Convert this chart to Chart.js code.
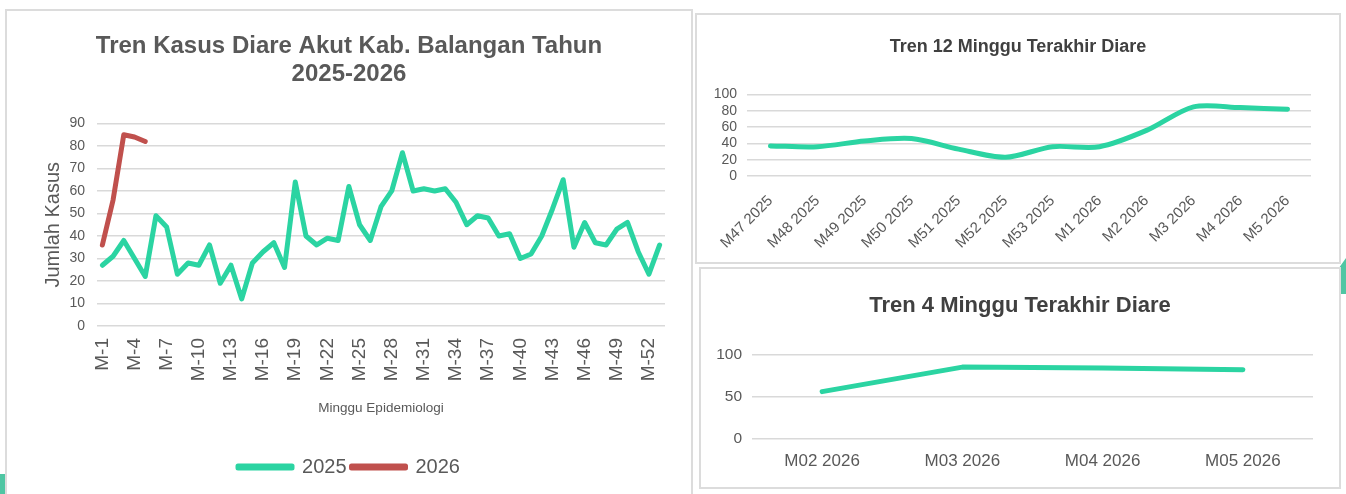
<!DOCTYPE html>
<html>
<head>
<meta charset="utf-8">
<script src="https://cdn.jsdelivr.net/npm/chart.js@4.4.0/dist/chart.umd.min.js"></script>
<style>
  html, body { margin: 0; padding: 0; background: #fff; overflow: hidden; }
  body { width: 1346px; height: 494px; position: relative; }
  .card { position: absolute; border: 2px solid #dcdcdc; background: #fff; box-sizing: border-box; }
  .card canvas { display: block; }
  .deco { position: absolute; background: #4fc6a3; }
</style>
</head>
<body>
<div class="deco" style="left:0;top:474px;width:5px;height:20px;"></div>
<div class="deco" style="left:1338px;top:258px;width:8px;height:36px;clip-path:polygon(100% 0,100% 100%,20% 100%,20% 25%);"></div>
<div class="card" style="left:5px;top:9px;width:688px;height:495px;"><canvas id="main"></canvas></div>
<div class="card" style="left:695px;top:13px;width:646px;height:251px;"><canvas id="last12"></canvas></div>
<div class="card" style="left:699px;top:267px;width:642px;height:222px;"><canvas id="last4"></canvas></div>
<script>
const weeks = ["M-1","M-2","M-3","M-4","M-5","M-6","M-7","M-8","M-9","M-10","M-11","M-12","M-13","M-14","M-15","M-16","M-17","M-18","M-19","M-20","M-21","M-22","M-23","M-24","M-25","M-26","M-27","M-28","M-29","M-30","M-31","M-32","M-33","M-34","M-35","M-36","M-37","M-38","M-39","M-40","M-41","M-42","M-43","M-44","M-45","M-46","M-47","M-48","M-49","M-50","M-51","M-52","M-53"];
const cases2025 = [27,31,38,30,22,49,44,23,28,27,36,19,27,12,28,33,37,26,64,40,36,39,38,62,45,38,53,60,77,60,61,60,61,55,45,49,48,40,41,30,32,40,52,65,35,46,37,36,43,46,33,23,36];
const cases2026 = [36,56,85,84,82];

const labels12 = ["M47 2025","M48 2025","M49 2025","M50 2025","M51 2025","M52 2025","M53 2025","M1 2026","M2 2026","M3 2026","M4 2026","M5 2026"];
const values12 = [37,36,43,46,33,23,36,36,56,85,84,82];

const labels4 = ["M02 2026","M03 2026","M04 2026","M05 2026"];
const values4 = [56,85,84,82];

const green = "#2bd4a2";
const red = "#c0504d";
const gridCol = "#d9d9d9";
const textCol = "#595959";
const FONT = "'Liberation Sans', Arial, Helvetica, sans-serif";

Chart.defaults.font.family = FONT;
Chart.defaults.color = textCol;
Chart.defaults.animation = false;

function sizeCanvas(id, w, h) {
  const c = document.getElementById(id);
  c.style.width = w + "px";
  c.style.height = h + "px";
  c.width = w; c.height = h;
  return c;
}

// empty axis on the right, only to keep the title centred on the card
function spacer(w) {
  return {
    position: 'right', display: true,
    grid: { display: false }, border: { display: false },
    ticks: { display: false },
    afterFit: function(s) { s.width = w; }
  };
}

// big chart
let mainCanvas = sizeCanvas("main", 684, 491);
new Chart(mainCanvas, {
  type: 'line',
  data: {
    labels: weeks,
    datasets: [
      { label: '2025', data: cases2025, borderColor: green, backgroundColor: green, borderWidth: 5, pointRadius: 0, tension: 0, borderJoinStyle: 'round', borderCapStyle: 'round' },
      { label: '2026', data: cases2026, borderColor: red, backgroundColor: red, borderWidth: 5, pointRadius: 0, tension: 0, borderJoinStyle: 'round', borderCapStyle: 'round' }
    ]
  },
  options: {
    responsive: false,
    layout: { padding: { left: 13, right: 13, top: 0, bottom: 15 } },
    plugins: {
      title: {
        display: true,
        text: ['Tren Kasus Diare Akut Kab. Balangan Tahun', '2025-2026'],
        color: textCol,
        font: { size: 24, weight: 'bold', lineHeight: 1.155 },
        padding: { top: 22, bottom: 35 }
      },
      legend: {
        position: 'bottom',
        labels: { boxWidth: 54, boxHeight: 2, padding: 5, color: textCol, font: { size: 20 } }
      },
      tooltip: { enabled: false }
    },
    scales: {
      x: {
        offset: true,
        grid: { display: false },
        border: { display: false },
        ticks: {
          autoSkip: false, maxRotation: 90, minRotation: 90, padding: 4,
          color: textCol, font: { size: 19 },
          callback: function(v, i) { return i % 3 === 0 ? this.getLabelForValue(v) : ''; }
        },
        title: { display: true, text: 'Minggu Epidemiologi', color: textCol, font: { size: 13.5 }, padding: { top: 0, bottom: 36 } },
        afterFit: function(s) { s.height = 126; }
      },
      y: {
        min: 0, max: 90,
        grid: { color: gridCol, lineWidth: 1.5, drawTicks: false },
        border: { display: false },
        ticks: { stepSize: 10, autoSkip: false, padding: 12, color: textCol, font: { size: 14 } },
        title: { display: true, text: 'Jumlah Kasus', color: textCol, font: { size: 20 }, padding: { top: 21, bottom: 0 } },
        afterFit: function(s) { s.width = 77; }
      },
      yR: spacer(13)
    }
  }
});

// 12 minggu
let c12 = sizeCanvas("last12", 642, 247);
new Chart(c12, {
  type: 'line',
  data: {
    labels: labels12,
    datasets: [{ label: 'Diare', data: values12, borderColor: green, borderWidth: 5, pointRadius: 0, tension: 0.3, borderJoinStyle: 'round', borderCapStyle: 'round' }]
  },
  options: {
    responsive: false,
    layout: { padding: { left: 12, right: 12, top: 0, bottom: 0 } },
    plugins: {
      title: { display: true, text: 'Tren 12 Minggu Terakhir Diare', color: '#404040', font: { size: 18, weight: 'bold' }, padding: { top: 21, bottom: 37 } },
      legend: { display: false },
      tooltip: { enabled: false }
    },
    scales: {
      x: {
        offset: true,
        grid: { display: false },
        border: { display: false },
        ticks: { autoSkip: false, maxRotation: 45, minRotation: 45, padding: 8, color: textCol, font: { size: 15 } },
        afterFit: function(s) { s.height = 86; }
      },
      y: {
        min: 0, max: 100,
        grid: { color: gridCol, lineWidth: 1.5, drawTicks: false },
        border: { display: false },
        ticks: { stepSize: 20, autoSkip: false, padding: 10, color: textCol, font: { size: 14, lineHeight: 1 } },
        afterFit: function(s) { s.width = 38; }
      },
      yR: spacer(16)
    }
  }
});

// 4 minggu
let c4 = sizeCanvas("last4", 638, 218);
new Chart(c4, {
  type: 'line',
  data: {
    labels: labels4,
    datasets: [{ label: 'Diare', data: values4, borderColor: green, borderWidth: 5, pointRadius: 0, tension: 0, borderJoinStyle: 'round', borderCapStyle: 'round' }]
  },
  options: {
    responsive: false,
    layout: { padding: { left: 12, right: 12, top: 0, bottom: 0 } },
    plugins: {
      title: { display: true, text: 'Tren 4 Minggu Terakhir Diare', color: '#404040', font: { size: 22, weight: 'bold' }, padding: { top: 24, bottom: 35 } },
      legend: { display: false },
      tooltip: { enabled: false }
    },
    scales: {
      x: {
        offset: true,
        grid: { display: false },
        border: { display: false },
        ticks: { autoSkip: false, maxRotation: 0, padding: 4, color: textCol, font: { size: 17 } },
        afterFit: function(s) { s.height = 48; }
      },
      y: {
        min: 0, max: 100,
        grid: { color: gridCol, lineWidth: 1.5, drawTicks: false },
        border: { display: false },
        ticks: { stepSize: 50, autoSkip: false, padding: 10, color: textCol, font: { size: 15.5 } },
        afterFit: function(s) { s.width = 39; }
      },
      yR: spacer(14)
    }
  }
});
</script>
</body>
</html>
